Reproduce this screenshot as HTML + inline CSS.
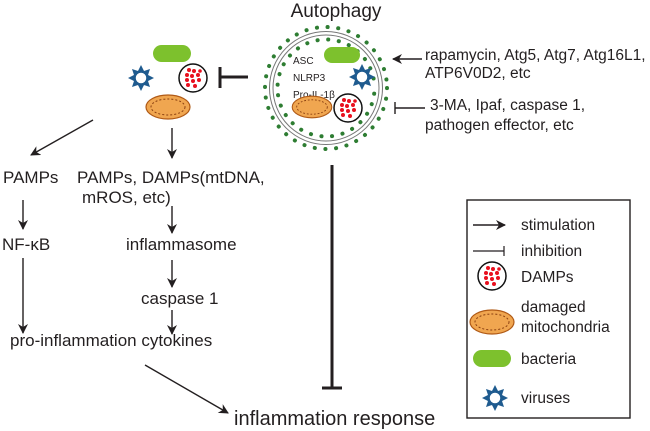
<!DOCTYPE html>
<html><head><meta charset="utf-8"><style>html,body{margin:0;padding:0;background:#fff}svg{display:block}text{font-family:"Liberation Sans",Arial,sans-serif;fill:#231f20}</style></head>
<body>
<svg width="650" height="431" viewBox="0 0 650 431" xmlns="http://www.w3.org/2000/svg">
<defs>
<marker id="ah" markerWidth="10" markerHeight="10" refX="9" refY="5" orient="auto" markerUnits="userSpaceOnUse"><path d="M0,0 L10,5 L0,10 L3,5 Z" fill="#231f20"/></marker>
<g id="virus"><g fill="#1f5b8f"><polygon points="0,-13 3,-7 -3,-7"/><polygon points="0,13 3,7 -3,7"/><polygon points="-13,0 -7,3 -7,-3"/><polygon points="13,0 7,3 7,-3"/><polygon points="9,-9 7,-3 3,-7"/><polygon points="-9,-9 -7,-3 -3,-7"/><polygon points="9,9 7,3 3,7"/><polygon points="-9,9 -7,3 -3,7"/></g><circle r="6.5" fill="#fff" stroke="#1f5b8f" stroke-width="2.5"/></g>
<g id="damps"><circle r="14" fill="#fff" stroke="#111" stroke-width="1.5"/><g fill="#e8101e"><circle cx="-4" cy="-8" r="2"/><circle cx="1" cy="-7" r="2"/><circle cx="-6" cy="-3" r="2"/><circle cx="-1" cy="-2" r="2"/><circle cx="5" cy="-3" r="2"/><circle cx="-6" cy="2" r="2"/><circle cx="0" cy="3" r="2"/><circle cx="6" cy="2" r="2"/><circle cx="-5" cy="7" r="2"/><circle cx="2" cy="8" r="2"/><circle cx="7" cy="-7" r="1.8"/></g></g>
<g id="mito"><ellipse rx="22" ry="12" fill="#f0a650" stroke="#b05a16" stroke-width="1.2"/><ellipse rx="17" ry="8" fill="none" stroke="#8a3f10" stroke-width="1" stroke-dasharray="2,2"/></g>
</defs>

<text x="336" y="17" font-size="19" text-anchor="middle">Autophagy</text>

<!-- left cluster -->
<rect x="153" y="45" width="38" height="17" rx="8.5" fill="#7dc12d"/>
<use href="#virus" x="141" y="78"/>
<use href="#damps" x="193" y="78"/>
<use href="#mito" x="168" y="107"/>
<line x1="248" y1="77" x2="220" y2="77" stroke="#231f20" stroke-width="3"/>
<line x1="220" y1="67" x2="220" y2="88" stroke="#231f20" stroke-width="3"/>

<!-- autophagosome -->
<circle cx="326" cy="88" r="53" fill="none" stroke="#777" stroke-width="1"/>
<circle cx="326" cy="88" r="56.5" fill="none" stroke="#777" stroke-width="1"/>
<circle cx="326" cy="88" r="61" fill="none" stroke="#2e7d32" stroke-width="4" stroke-dasharray="0.1,10.6" stroke-linecap="round"/>
<circle cx="326" cy="88" r="48.5" fill="none" stroke="#2e7d32" stroke-width="4" stroke-dasharray="0.1,10.6" stroke-linecap="round" stroke-dashoffset="5"/>
<rect x="324" y="47" width="36" height="16" rx="8" fill="#7dc12d"/>
<text x="293" y="64" font-size="10">ASC</text>
<text x="293" y="81" font-size="10">NLRP3</text>
<text x="293" y="98" font-size="10">Pro-IL-1β</text>
<use href="#virus" x="362" y="77"/>
<g transform="translate(312,107) scale(0.9)"><use href="#mito"/></g>
<use href="#damps" x="348" y="108"/>

<!-- right side -->
<line x1="422" y1="59" x2="393" y2="59" stroke="#231f20" stroke-width="1.4" marker-end="url(#ah)"/>
<text x="425" y="60" font-size="15.5">rapamycin, Atg5, Atg7, Atg16L1,</text>
<text x="425" y="78" font-size="15.5">ATP6V0D2, etc</text>
<line x1="425" y1="108" x2="395" y2="108" stroke="#231f20" stroke-width="1.4"/>
<line x1="395" y1="102" x2="395" y2="114" stroke="#231f20" stroke-width="1.4"/>
<text x="430" y="110" font-size="15.5">3-MA, Ipaf, caspase 1,</text>
<text x="425" y="130" font-size="15.5">pathogen effector, etc</text>

<line x1="332" y1="165" x2="332" y2="388" stroke="#231f20" stroke-width="3"/>
<line x1="322" y1="388" x2="342" y2="388" stroke="#231f20" stroke-width="3"/>

<!-- left flow -->
<line x1="93" y1="120" x2="31" y2="155" stroke="#231f20" stroke-width="1.4" marker-end="url(#ah)"/>
<line x1="172" y1="128" x2="172" y2="158" stroke="#231f20" stroke-width="1.4" marker-end="url(#ah)"/>
<text x="3" y="183" font-size="17">PAMPs</text>
<text x="77" y="183" font-size="17">PAMPs, DAMPs(mtDNA,</text>
<text x="82" y="203" font-size="17">mROS, etc)</text>
<line x1="23" y1="200" x2="23" y2="229" stroke="#231f20" stroke-width="1.4" marker-end="url(#ah)"/>
<text x="2" y="250" font-size="17">NF-κB</text>
<line x1="172" y1="206" x2="172" y2="233" stroke="#231f20" stroke-width="1.4" marker-end="url(#ah)"/>
<text x="126" y="250" font-size="17">inflammasome</text>
<line x1="172" y1="260" x2="172" y2="287" stroke="#231f20" stroke-width="1.4" marker-end="url(#ah)"/>
<text x="141" y="304" font-size="17">caspase 1</text>
<line x1="172" y1="310" x2="172" y2="334" stroke="#231f20" stroke-width="1.4" marker-end="url(#ah)"/>
<line x1="23" y1="258" x2="23" y2="333" stroke="#231f20" stroke-width="1.4" marker-end="url(#ah)"/>
<text x="10" y="346" font-size="17">pro-inflammation cytokines</text>
<line x1="145" y1="365" x2="228" y2="413" stroke="#231f20" stroke-width="1.4" marker-end="url(#ah)"/>
<text x="234" y="425" font-size="20">inflammation response</text>

<!-- legend -->
<rect x="467" y="200" width="163" height="218" fill="none" stroke="#231f20" stroke-width="1.4"/>
<line x1="473" y1="225" x2="505" y2="225" stroke="#231f20" stroke-width="1.4" marker-end="url(#ah)"/>
<text x="521" y="230" font-size="15.5">stimulation</text>
<line x1="473" y1="251" x2="504" y2="251" stroke="#231f20" stroke-width="1.2"/>
<line x1="504" y1="246" x2="504" y2="256" stroke="#231f20" stroke-width="1.2"/>
<text x="521" y="256" font-size="15.5">inhibition</text>
<use href="#damps" x="492" y="276"/>
<text x="521" y="282" font-size="15.5">DAMPs</text>
<use href="#mito" x="492" y="322"/>
<text x="521" y="312" font-size="15.5">damaged</text>
<text x="521" y="332" font-size="15.5">mitochondria</text>
<rect x="473" y="350" width="38" height="17" rx="8.5" fill="#7dc12d"/>
<text x="521" y="364" font-size="15.5">bacteria</text>
<use href="#virus" x="495" y="398"/>
<text x="521" y="403" font-size="15.5">viruses</text>
</svg>
</body></html>
